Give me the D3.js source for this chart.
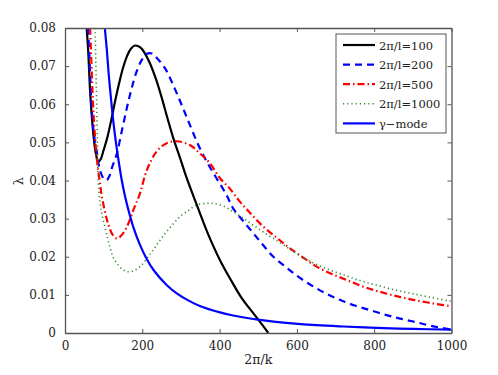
<!DOCTYPE html>
<html>
<head>
<meta charset="utf-8">
<script src="https://cdn.jsdelivr.net/npm/d3@7"></script>
<style>
  body { margin: 0; background: #fff; }
</style>
</head>
<body>
<div id="chart-area"></div>
<script>
// data: x = 2pi/k, y = lambda
const l100X = [56, 60, 65, 70, 75, 80, 86, 92, 100, 110, 120, 130, 140, 150, 160, 170, 181, 195, 207, 220, 235, 250, 265, 280, 298, 315, 341, 370, 401, 427, 455, 487, 510, 526];
const l100Y = [0.080, 0.074, 0.0633, 0.056, 0.0505, 0.047, 0.0449, 0.0455, 0.048, 0.0515, 0.056, 0.061, 0.0655, 0.0695, 0.0725, 0.0745, 0.0754, 0.0749, 0.0733, 0.0707, 0.0667, 0.0618, 0.0564, 0.0512, 0.0458, 0.0406, 0.0336, 0.026, 0.0191, 0.0143, 0.0095, 0.0052, 0.0022, 0.0];

const l200X = [60, 65, 69, 75, 82, 88, 95, 101, 108, 115, 121, 134, 147, 160, 172, 185, 198, 211, 225, 237, 259, 280, 302, 323, 345, 367, 392, 418, 435, 460, 487, 513, 539, 565, 591, 620, 651, 680, 711, 750, 789, 832, 870, 910, 950, 1000];
const l200Y = [0.080, 0.068, 0.059, 0.052, 0.0476, 0.0438, 0.0414, 0.0404, 0.0401, 0.0412, 0.0432, 0.047, 0.053, 0.059, 0.064, 0.0685, 0.0715, 0.0732, 0.0733, 0.0722, 0.0694, 0.065, 0.0598, 0.0546, 0.0493, 0.0449, 0.0406, 0.0362, 0.0327, 0.0295, 0.0262, 0.023, 0.020, 0.0178, 0.0157, 0.0136, 0.0117, 0.0101, 0.0087, 0.0072, 0.006, 0.0047, 0.0037, 0.0028, 0.0018, 0.0009];

const l500X = [65, 69, 73, 78, 82, 86, 91, 95, 103, 112, 123, 134, 145, 160, 177, 194, 211, 237, 263, 289, 323, 349, 375, 401, 427, 453, 479, 513, 550, 582, 620, 651, 690, 729, 770, 815, 860, 901, 950, 1000];
const l500Y = [0.080, 0.069, 0.059, 0.051, 0.046, 0.0425, 0.039, 0.036, 0.032, 0.0285, 0.0258, 0.0248, 0.0255, 0.0278, 0.0323, 0.0366, 0.0425, 0.0476, 0.0498, 0.0503, 0.0493, 0.0471, 0.0445, 0.0406, 0.0378, 0.0344, 0.0315, 0.0279, 0.0248, 0.0222, 0.0195, 0.0174, 0.0155, 0.0139, 0.0122, 0.0108, 0.0096, 0.0087, 0.0078, 0.007];

const l1000X = [78, 80, 82, 84, 86, 91, 97, 103, 110, 116, 125, 134, 147, 160, 177, 194, 211, 228, 245, 263, 280, 297, 320, 341, 367, 384, 410, 435, 460, 487, 513, 539, 570, 600, 640, 686, 730, 772, 815, 858, 900, 944, 1000];
const l1000Y = [0.080, 0.070, 0.060, 0.049, 0.040, 0.034, 0.0305, 0.0279, 0.025, 0.0226, 0.0198, 0.0183, 0.0168, 0.0161, 0.0163, 0.0174, 0.0194, 0.0218, 0.0242, 0.0266, 0.0286, 0.0305, 0.0322, 0.0336, 0.034, 0.034, 0.0333, 0.0318, 0.0302, 0.0283, 0.0265, 0.0248, 0.0228, 0.0208, 0.0185, 0.0165, 0.0149, 0.0135, 0.0123, 0.0112, 0.0103, 0.0094, 0.0083];

const gammaX = [103, 108, 113, 118, 125, 132, 140, 147, 155, 164, 177, 194, 211, 230, 263, 289, 320, 349, 401, 435, 479, 530, 580, 651, 720, 824, 900, 1000];
const gammaY = [0.080, 0.0745, 0.068, 0.0625, 0.0555, 0.0498, 0.0443, 0.040, 0.036, 0.0323, 0.0277, 0.0231, 0.0195, 0.0164, 0.0126, 0.0104, 0.0085, 0.0071, 0.0054, 0.0046, 0.0038, 0.0031, 0.0026, 0.00205, 0.0017, 0.00128, 0.00107, 0.00087];

const xTicks = [0, 200, 400, 600, 800, 1000];
const yTicks = [0, 0.01, 0.02, 0.03, 0.04, 0.05, 0.06, 0.07, 0.08];

const series = [
  { name: "2\u03c0/l=100", xs: l100X, ys: l100Y, color: "#000000", width: 2.2, dash: null },
  { name: "2\u03c0/l=200", xs: l200X, ys: l200Y, color: "#0000ff", width: 2.2, dash: "7,5" },
  { name: "2\u03c0/l=500", xs: l500X, ys: l500Y, color: "#ff0000", width: 2.2, dash: "7,3,1.5,3" },
  { name: "2\u03c0/l=1000", xs: l1000X, ys: l1000Y, color: "#2e8b2e", width: 1.6, dash: "1.2,3" },
  { name: "\u03b3\u2212mode", xs: gammaX, ys: gammaY, color: "#0000ff", width: 2.2, dash: null }
];

const m = { t: 28, l: 65, r: 46.5, b: 42 };
const w = 498;
const h = 375;
const width = w - m.l - m.r;
const height = h - m.t - m.b;
const font = "DejaVu Serif";

const svg = d3.select("#chart-area")
  .append("svg")
  .attr("width", w)
  .attr("height", h);

const g = svg.append("g")
  .attr("transform", "translate(" + m.l + "," + m.t + ")");

const x = d3.scaleLinear().domain([0, 1000]).range([0, width]);
const y = d3.scaleLinear().domain([0, 0.08]).range([height, 0]);

g.append("clipPath").attr("id", "clip")
  .append("rect")
  .attr("width", width)
  .attr("height", height);

const line = d3.line()
  .x(d => x(d[0]))
  .y(d => y(d[1]))
  .curve(d3.curveCatmullRom.alpha(0.5));

const curves = g.append("g").attr("clip-path", "url(#clip)");

series.forEach(s => {
  const pts = s.xs.map((v, i) => [v, s.ys[i]]);
  curves.append("path")
    .datum(pts)
    .attr("fill", "none")
    .attr("stroke", s.color)
    .attr("stroke-width", s.width)
    .attr("stroke-dasharray", s.dash)
    .attr("d", line);
});

// axes, ticks inside on all four sides
const axisColor = "#555";
const tickLen = 4;

const xAxis = g.append("g")
  .attr("transform", "translate(0," + height + ")")
  .call(d3.axisBottom(x).tickValues(xTicks).tickSizeInner(-tickLen).tickSizeOuter(0).tickPadding(8).tickFormat(d3.format("d")));

const xTop = g.append("g")
  .call(d3.axisTop(x).tickValues(xTicks).tickSizeInner(-tickLen).tickSizeOuter(0).tickFormat(""));

const yAxis = g.append("g")
  .call(d3.axisLeft(y).tickValues(yTicks).tickSizeInner(-tickLen).tickSizeOuter(0).tickPadding(9).tickFormat(d => d === 0 ? "0" : d3.format(".2f")(d)));

const yRight = g.append("g")
  .attr("transform", "translate(" + width + ",0)")
  .call(d3.axisRight(y).tickValues(yTicks).tickSizeInner(-tickLen).tickSizeOuter(0).tickFormat(""));

[xAxis, xTop, yAxis, yRight].forEach(a => {
  a.attr("font-family", null).attr("font-size", null);
  a.select(".domain").attr("stroke", axisColor).attr("stroke-width", 1.3);
  a.selectAll(".tick line").attr("stroke", axisColor);
  a.selectAll(".tick text")
    .attr("fill", "#222")
    .style("font-family", font)
    .style("font-size", "12px");
});

g.append("text")
  .attr("x", width / 2)
  .attr("y", height + 31)
  .attr("text-anchor", "middle")
  .style("font-family", font)
  .style("font-size", "12.5px")
  .attr("fill", "#222")
  .text("2\u03c0/k");

g.append("text")
  .attr("x", -153)
  .attr("y", -42)
  .attr("transform", "rotate(-90)")
  .attr("text-anchor", "middle")
  .style("font-family", font)
  .style("font-size", "13px")
  .attr("fill", "#222")
  .text("\u03bb");

// legend
const legend = svg.append("g").attr("transform", "translate(336,34)");

legend.append("rect")
  .attr("width", 110)
  .attr("height", 99)
  .attr("fill", "#fff")
  .attr("stroke", axisColor)
  .attr("stroke-width", 1);

series.forEach((s, i) => {
  const yy = 11 + i * 19.6;
  legend.append("line")
    .attr("x1", 7)
    .attr("x2", 39)
    .attr("y1", yy)
    .attr("y2", yy)
    .attr("stroke", s.color)
    .attr("stroke-width", s.width)
    .attr("stroke-dasharray", s.dash);
  legend.append("text")
    .attr("x", 43)
    .attr("y", yy + 4.5)
    .style("font-family", font)
    .style("font-size", "11.5px")
    .attr("fill", "#222")
    .text(s.name);
});
</script>
</body>
</html>
